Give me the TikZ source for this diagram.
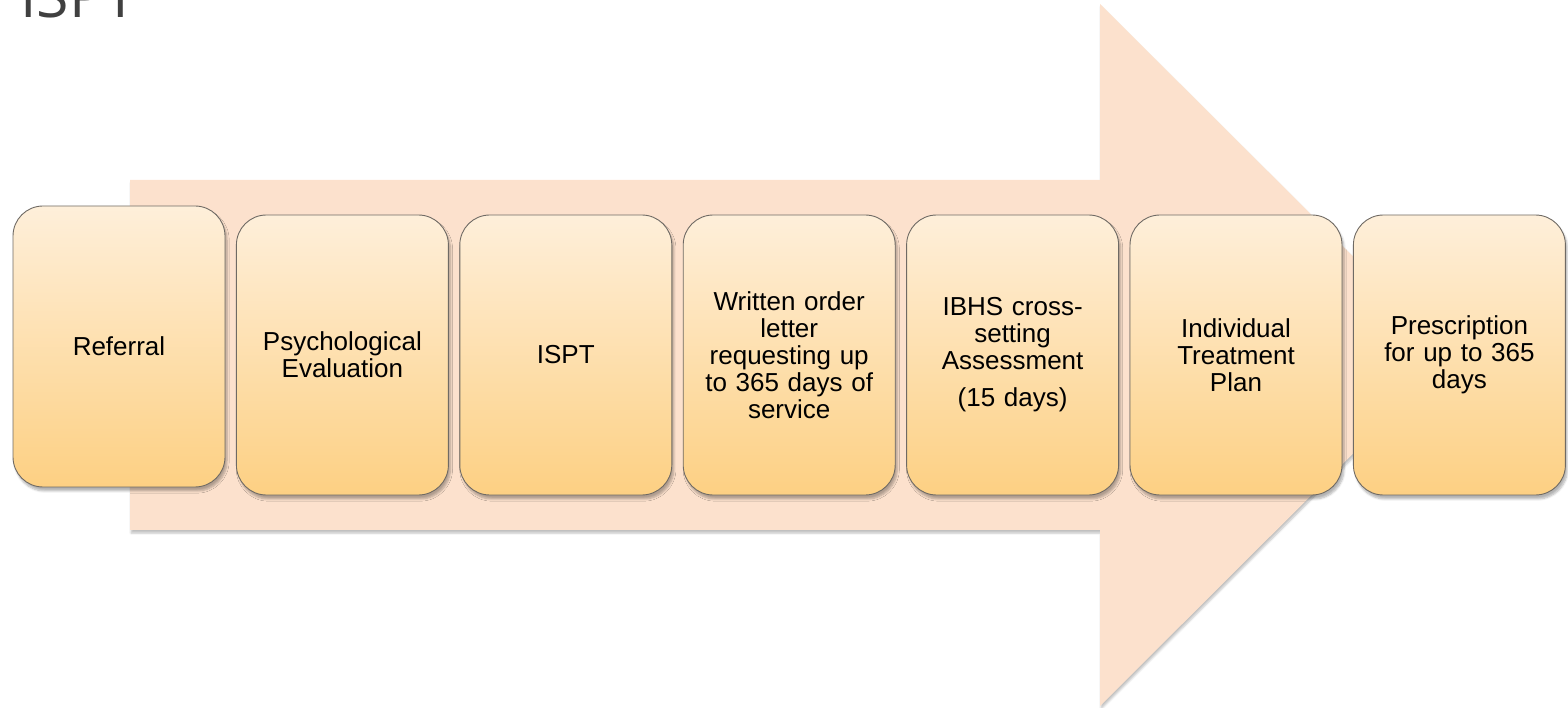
\documentclass[tikz,border=0pt]{standalone}
\usepackage{fontspec}
\setmainfont{Liberation Sans}
\newfontfamily\titlefont{Open Sans}
\usetikzlibrary{shadows.blur}
\definecolor{arrowfill}{HTML}{FCE1CD}
\definecolor{boxtop}{HTML}{FEEFDA}
\definecolor{boxbot}{HTML}{FDD083}
\definecolor{boxline}{HTML}{6F6A64}
\definecolor{titlegrey}{HTML}{404040}
\tikzset{
  stepbox/.style={rectangle, rounded corners=30pt, minimum width=212pt, minimum height=280pt,
    draw=boxline, line width=0.9pt, top color=boxtop, bottom color=boxbot,
    blur shadow={shadow xshift=2pt, shadow yshift=-4pt, shadow blur steps=6, shadow opacity=30},
    align=center, text width=204pt, font=\fontsize{26}{27}\selectfont, inner sep=0pt},
}
\begin{document}
\begin{tikzpicture}[x=1pt,y=1pt]
\useasboundingbox (0,0) rectangle (1568,707);
\clip (0,0) rectangle (1568,707);
% big arrow
\fill[arrowfill, blur shadow={shadow xshift=1pt, shadow yshift=-3pt, shadow blur steps=5, shadow opacity=25}]
  (130,527) -- (1100,527) -- (1100,703) -- (1452,352) -- (1100,1) -- (1100,177) -- (130,177) -- cycle;
% title
\node[anchor=base west, inner sep=0pt, text=titlegrey, font=\titlefont\fontsize{59}{64}\selectfont] (title) at (20,689) {ISPT};
% boxes
\node[stepbox, minimum height=281pt] (b1) at (119,360.5) {Referral};
\node[stepbox] (b2) at (342.4,352) {Psychological\\Evaluation};
\node[stepbox] (b3) at (565.8,352) {ISPT};
\node[stepbox] (b4) at (789.2,352) {Written order\\letter\\requesting up\\to 365 days of\\service};
\node[stepbox] (b5) at (1012.6,352) {IBHS cross-\\setting\\Assessment\\[10pt](15 days)};
\node[stepbox] (b6) at (1236,352) {Individual\\Treatment\\Plan};
\node[stepbox] (b7) at (1459.4,352) {Prescription\\for up to 365\\days};
\end{tikzpicture}
\end{document}
